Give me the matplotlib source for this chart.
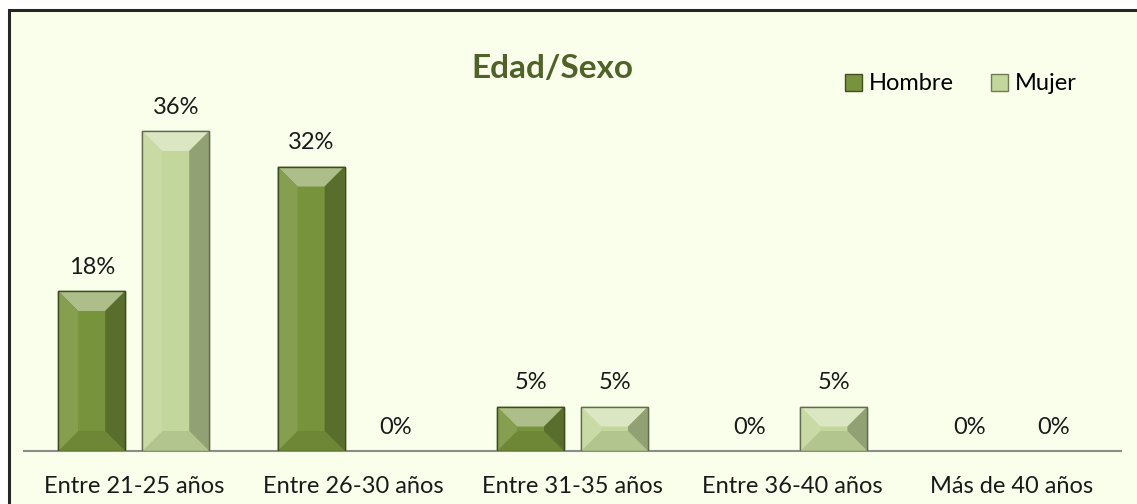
import numpy as np
import matplotlib.pyplot as plt
from matplotlib.patches import Polygon, Rectangle, Patch

categories = ["Entre 21-25 años", "Entre 26-30 años", "Entre 31-35 años",
              "Entre 36-40 años", "Más de 40 años"]
hombre = [18, 32, 5, 0, 0]
mujer = [36, 0, 5, 5, 0]
series_names = ["Hombre", "Mujer"]

plt.rcParams['font.family'] = ['Lato', 'DejaVu Sans']

W, H, DPI = 1137, 504, 100
fig = plt.figure(figsize=(W / DPI, H / DPI), dpi=DPI)
fig.patch.set_facecolor('white')

# chart area background + black border (cut at right/bottom as in reference)
bg = Rectangle((9 / W, -0.1), 1.2, (504 - 10) / H + 0.1, transform=fig.transFigure,
               facecolor='#FAFFEB', edgecolor='#262626', linewidth=2.2, zorder=-10)
fig.patches.append(bg)

ax = fig.add_axes([24 / W, (504 - 451) / H, (1121 - 24) / W, (451 - 60) / H])
ax.set_facecolor('none')

x = np.arange(len(categories))
bw = 67 / (1097 / 5)
gap = 17 / (1097 / 5)
off = (bw + gap) / 2

colors = {"Hombre": ('#77933C', '#3F4F20'), "Mujer": ('#C3D69B', '#6E7D55')}

bars_h = ax.bar(x - off, hombre, bw, color=colors["Hombre"][0],
                edgecolor=colors["Hombre"][1], linewidth=1, zorder=2)
bars_m = ax.bar(x + off, mujer, bw, color=colors["Mujer"][0],
                edgecolor=colors["Mujer"][1], linewidth=1, zorder=2)

ax.set_xlim(-0.5, 4.5)
ax.set_ylim(0, (451 - 60) / 8.89)


def lighten(c, f):
    c = np.array(plt.matplotlib.colors.to_rgb(c))
    return tuple(c + (1 - c) * f) if f > 0 else tuple(c * (1 + f))


def bevel(bar, base):
    # draw a simple bevel (top/bottom/left/right facets) in display coords
    if bar.get_height() <= 0:
        return
    x0, y0 = bar.get_x(), bar.get_y()
    x1, y1 = x0 + bar.get_width(), y0 + bar.get_height()
    (px0, py0), (px1, py1) = ax.transData.transform([(x0, y0), (x1, y1)])
    b = min(20, (px1 - px0) / 3, (py1 - py0) / 2)
    inv = ax.transData.inverted()
    ix0, ix1, iy0, iy1 = px0 + b, px1 - b, py0 + b, py1 - b
    facets = [
        ([(px0, py1), (px1, py1), (ix1, iy1), (ix0, iy1)], lighten(base, 0.4)),
        ([(px0, py0), (px1, py0), (ix1, iy0), (ix0, iy0)], lighten(base, -0.08)),
        ([(px0, py0), (px0, py1), (ix0, iy1), (ix0, iy0)], lighten(base, 0.1)),
        ([(px1, py0), (px1, py1), (ix1, iy1), (ix1, iy0)], lighten(base, -0.25)),
    ]
    for pts, col in facets:
        ax.add_patch(Polygon(inv.transform(pts), closed=True, facecolor=col,
                             edgecolor='none', zorder=3))
    ax.add_patch(Rectangle((x0, y0), x1 - x0, y1 - y0, facecolor='none',
                           edgecolor=lighten(base, -0.5), linewidth=1, zorder=4))


fig.canvas.draw()
for bar in bars_h:
    bevel(bar, colors["Hombre"][0])
for bar in bars_m:
    bevel(bar, colors["Mujer"][0])

fs = 17
for bars, vals in ((bars_h, hombre), (bars_m, mujer)):
    for bar, v in zip(bars, vals):
        ax.annotate(f"{v}%", (bar.get_x() + bar.get_width() / 2, v),
                    xytext=(0, 17), textcoords='offset points',
                    ha='center', va='center', fontsize=fs, color='#1a1a1a')

for s in ['top', 'right', 'left']:
    ax.spines[s].set_visible(False)
ax.spines['bottom'].set_color('#8C8C8C')
ax.spines['bottom'].set_linewidth(1.5)
ax.set_yticks([])
ax.set_xticks(x)
ax.set_xticklabels(categories, fontsize=fs, color='#1a1a1a')
ax.tick_params(axis='x', length=0, pad=18)

fig.text(552 / W, 1 - 68 / H, "Edad/Sexo", ha='center', va='center',
         fontsize=24, fontweight='bold', color='#4F6228')

handles = [Patch(facecolor=colors[n][0], edgecolor=colors[n][1]) for n in series_names]
fig.legend(handles, series_names, loc='center', bbox_to_anchor=(961 / W, 1 - 84 / H),
           ncol=2, frameon=False, fontsize=fs, handlelength=0.7, handleheight=0.7,
           handletextpad=0.3, columnspacing=1.6)

fig.savefig('out.png', dpi=DPI, facecolor=fig.get_facecolor())
